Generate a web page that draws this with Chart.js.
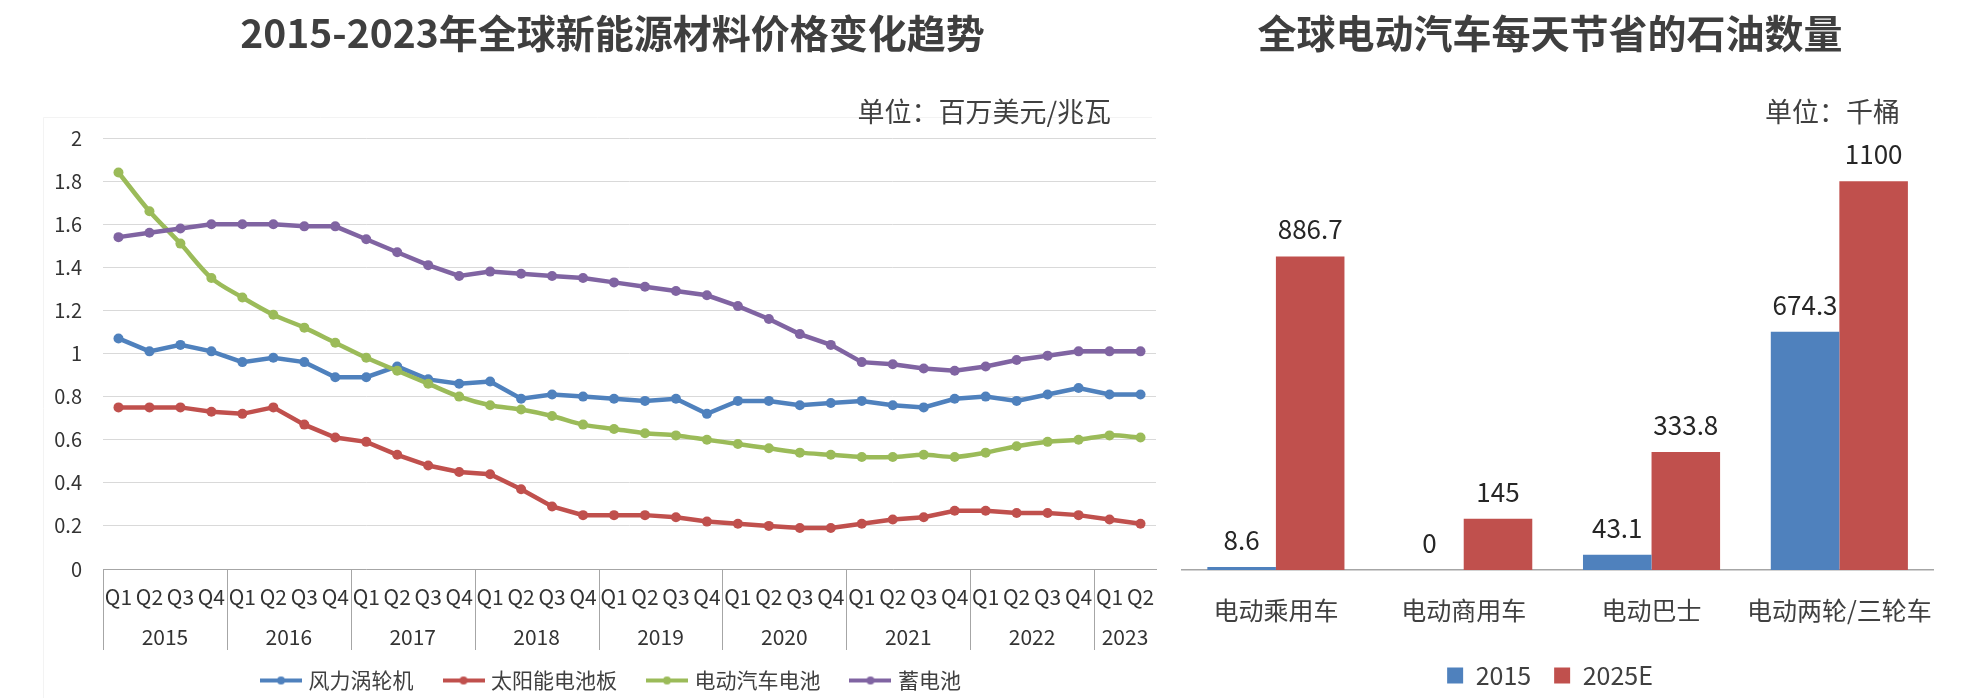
<!DOCTYPE html>
<html><head><meta charset="utf-8">
<script src="https://cdn.jsdelivr.net/npm/chart.js@4.4.1/dist/chart.umd.min.js"></script>
<style>
html,body{margin:0;padding:0;background:#fff;width:1986px;height:698px;overflow:hidden;}
#w1{position:absolute;left:0;top:0;width:1225px;height:701px;}
#w2{position:absolute;left:1140px;top:0;width:820px;height:698px;}
</style></head><body>
<div id="w1"><canvas id="c1"></canvas></div>
<div id="w2"><canvas id="c2"></canvas></div>
<script>
// ---------- data: left chart ----------
const quarters = ['Q1','Q2','Q3','Q4','Q1','Q2','Q3','Q4','Q1','Q2','Q3','Q4','Q1','Q2','Q3','Q4',
                  'Q1','Q2','Q3','Q4','Q1','Q2','Q3','Q4','Q1','Q2','Q3','Q4','Q1','Q2','Q3','Q4','Q1','Q2'];
const years = ['2015','2016','2017','2018','2019','2020','2021','2022','2023'];
const windTurbine = [1.07,1.01,1.04,1.01,0.96,0.98,0.96,0.89,0.89,0.94,0.88,0.86,0.87,0.79,0.81,0.80,
                     0.79,0.78,0.79,0.72,0.78,0.78,0.76,0.77,0.78,0.76,0.75,0.79,0.80,0.78,0.81,0.84,0.81,0.81];
const solarPanel = [0.75,0.75,0.75,0.73,0.72,0.75,0.67,0.61,0.59,0.53,0.48,0.45,0.44,0.37,0.29,0.25,
                    0.25,0.25,0.24,0.22,0.21,0.20,0.19,0.19,0.21,0.23,0.24,0.27,0.27,0.26,0.26,0.25,0.23,0.21];
const evBattery = [1.84,1.66,1.51,1.35,1.26,1.18,1.12,1.05,0.98,0.92,0.86,0.80,0.76,0.74,0.71,0.67,
                   0.65,0.63,0.62,0.60,0.58,0.56,0.54,0.53,0.52,0.52,0.53,0.52,0.54,0.57,0.59,0.60,0.62,0.61];
const storageBattery = [1.54,1.56,1.58,1.60,1.60,1.60,1.59,1.59,1.53,1.47,1.41,1.36,1.38,1.37,1.36,1.35,
                        1.33,1.31,1.29,1.27,1.22,1.16,1.09,1.04,0.96,0.95,0.93,0.92,0.94,0.97,0.99,1.01,1.01,1.01];
const lineSeriesNames = ['风力涡轮机','太阳能电池板','电动汽车电池','蓄电池'];
const yTicksLeft = [0,0.2,0.4,0.6,0.8,1,1.2,1.4,1.6,1.8,2];

// ---------- data: right chart ----------
const vehicleTypes = ['电动乘用车','电动商用车','电动巴士','电动两轮/三轮车'];
const oil2015 = [8.6, 0, 43.1, 674.3];
const oil2025E = [886.7, 145, 333.8, 1100];
const barSeriesNames = ['2015','2025E'];

const FONT = '"Noto Sans CJK SC", "Noto Sans", sans-serif';
const BLUE='#4F81BD', RED='#C0504D', GREEN='#9BBB59', PURPLE='#8064A2';
const TXT='#404040';

function legendIcon(color){
  const c=document.createElement('canvas'); c.width=42; c.height=12;
  const g=c.getContext('2d');
  g.strokeStyle=color; g.lineWidth=4; g.beginPath(); g.moveTo(0,6); g.lineTo(42,6); g.stroke();
  g.fillStyle=color; g.beginPath(); g.arc(21,6,4,0,Math.PI*2); g.fill();
  return c;
}
const lineColors=[BLUE,RED,GREEN,PURPLE];
const icons=lineColors.map(legendIcon);

const leftDecor = {
  id:'leftDecor',
  beforeDraw(chart){
    const ctx=chart.ctx; ctx.save();
    ctx.strokeStyle='#f3f3f3'; ctx.lineWidth=1;
    ctx.beginPath(); ctx.moveTo(43.5,700); ctx.lineTo(43.5,117.5); ctx.lineTo(1152,117.5); ctx.stroke();
    ctx.restore();
  },
  afterDraw(chart){
    const ctx=chart.ctx, x=chart.scales.x, a=chart.chartArea;
    ctx.save();
    ctx.strokeStyle='#a6a6a6'; ctx.lineWidth=1;
    ctx.fillStyle='#333'; ctx.font='21px '+FONT; ctx.textAlign='center'; ctx.textBaseline='middle';
    const n=quarters.length;
    years.forEach((yr,k)=>{
      const s=4*k, e=Math.min(4*k+3,n-1);
      const L = s===0 ? a.left : (x.getPixelForValue(s-1)+x.getPixelForValue(s))/2;
      const R = e===n-1 ? a.right : (x.getPixelForValue(e)+x.getPixelForValue(e+1))/2;
      const lx=Math.round(L)+0.5;
      ctx.beginPath(); ctx.moveTo(lx,a.bottom); ctx.lineTo(lx,650); ctx.stroke();
      ctx.fillText(yr,(L+R)/2,637);
    });
    ctx.fillStyle=TXT; ctx.font='27px '+FONT; ctx.textAlign='right';
    ctx.fillText('单位：百万美元/兆瓦',1111,112);
    ctx.restore();
  }
};

const mk=(i,data,extra)=>Object.assign({
  label:lineSeriesNames[i], data, borderColor:lineColors[i], backgroundColor:lineColors[i],
  pointBackgroundColor:lineColors[i], pointBorderWidth:0, pointRadius:5, pointHoverRadius:5,
  borderWidth:4.5, tension:0, order:4-i
},extra||{});

new Chart(document.getElementById('c1'),{
  type:'line',
  data:{labels:quarters, datasets:[
    mk(0,windTurbine), mk(1,solarPanel), mk(2,evBattery,{tension:0.3}), mk(3,storageBattery)
  ]},
  options:{
    responsive:true, maintainAspectRatio:false, animation:false,
    layout:{padding:0},
    plugins:{
      title:{display:true, text:'2015-2023年全球新能源材料价格变化趋势', color:'#3f3f3f',
        font:{family:FONT,size:39,weight:'bold',lineHeight:1.2}, padding:{top:9.6,bottom:138-9.6-46.8}},
      legend:{position:'bottom', labels:{usePointStyle:true, pointStyleWidth:34, color:TXT,
        font:{family:FONT,size:21}, padding:33,
        sort:(a,b)=>a.datasetIndex-b.datasetIndex,
        generateLabels(chart){
          const items=Chart.defaults.plugins.legend.labels.generateLabels(chart);
          items.forEach(it=>{it.pointStyle=icons[it.datasetIndex];});
          return items;
        }}},
      tooltip:{enabled:false}
    },
    scales:{
      x:{type:'category', offset:true, grid:{display:false,drawTicks:false}, border:{display:true,color:'#a6a6a6',width:1},
        ticks:{font:{family:FONT,size:21}, color:'#333', padding:15.4, maxRotation:0, autoSkip:false},
        afterFit(s){s.height=68;}},
      y:{min:0,max:2, afterBuildTicks(s){s.ticks=yTicksLeft.map(v=>({value:v}));},
        ticks:{font:{family:FONT,size:20}, color:'#333', padding:21, callback:v=>String(+(+v).toFixed(1))},
        grid:{color:'#d9d9d9',drawTicks:false,lineWidth:1}, border:{display:false},
        afterFit(s){s.width=103;}},
      yR:{position:'right', display:true, grid:{display:false,drawTicks:false}, ticks:{display:false}, border:{display:false},
        afterFit(s){s.width=69;}}
    }
  },
  plugins:[leftDecor]
});

// ---------- right chart ----------
const rightDecor={
  id:'rightDecor',
  afterDatasetsDraw(chart){
    const ctx=chart.ctx; ctx.save();
    ctx.fillStyle='#262626'; ctx.font='26px '+FONT; ctx.textAlign='center'; ctx.textBaseline='middle';
    chart.data.datasets.forEach((ds,di)=>{
      chart.getDatasetMeta(di).data.forEach((bar,i)=>{
        ctx.fillText(String(ds.data[i]), bar.x, bar.y-27);
      });
    });
    ctx.fillStyle=TXT; ctx.font='27px '+FONT; ctx.textAlign='right';
    ctx.fillText('单位：千桶',1900-1140,112);
    ctx.restore();
  }
};

new Chart(document.getElementById('c2'),{
  type:'bar',
  data:{labels:vehicleTypes, datasets:[
    {label:barSeriesNames[0], data:oil2015, backgroundColor:BLUE, categoryPercentage:0.73, barPercentage:1},
    {label:barSeriesNames[1], data:oil2025E, backgroundColor:RED, categoryPercentage:0.73, barPercentage:1}
  ]},
  options:{
    responsive:true, maintainAspectRatio:false, animation:false,
    layout:{padding:0},
    plugins:{
      title:{display:true, text:'全球电动汽车每天节省的石油数量', color:'#3f3f3f',
        font:{family:FONT,size:39,weight:'bold',lineHeight:1.2}, padding:{top:9.6,bottom:145.8-9.6-46.8}},
      legend:{position:'bottom', labels:{boxWidth:16, boxHeight:16, color:TXT, font:{family:FONT,size:25}, padding:23}},
      tooltip:{enabled:false}
    },
    scales:{
      x:{grid:{display:false,drawTicks:false}, border:{display:true,color:'#a6a6a6',width:1.5},
        ticks:{font:{family:FONT,size:25}, color:TXT, padding:25, maxRotation:0, autoSkip:false},
        afterFit(s){s.height=70;}},
      y:{min:0,max:1200, display:true, grid:{display:false,drawTicks:false}, ticks:{display:false}, border:{display:false},
        afterFit(s){s.width=42;}},
      yR:{position:'right', display:true, grid:{display:false,drawTicks:false}, ticks:{display:false}, border:{display:false},
        afterFit(s){s.width=26;}}
    }
  },
  plugins:[rightDecor]
});
</script>
</body></html>
